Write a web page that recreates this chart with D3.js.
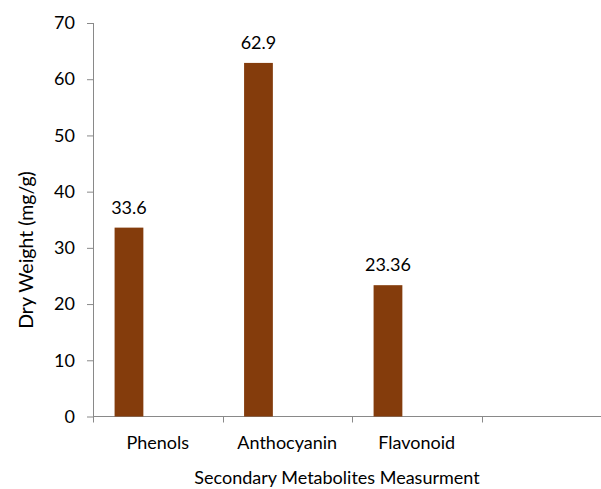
<!DOCTYPE html>
<html>
<head>
<meta charset="utf-8">
<script src="https://cdn.jsdelivr.net/npm/d3@7"></script>
<style>
  html, body { margin: 0; padding: 0; background: #fff; }
  svg { display: block; }
  text { font-family: Lato, "Open Sans", sans-serif; fill: #000; }
</style>
</head>
<body>
<svg id="chart" width="601" height="489"></svg>
<script>
// Data
const categories = ["Phenols", "Anthocyanin", "Flavonoid", ""];
const values = [33.6, 62.9, 23.36, null];
const valueLabels = ["33.6", "62.9", "23.36", ""];
const seriesSlots = ["Dry Weight", "slot2", "slot3"];
const yTicks = [0, 10, 20, 30, 40, 50, 60, 70];
const xTitle = "Secondary Metabolites Measurment";
const yTitle = "Dry Weight (mg/g)";

(function () {
const svg = d3.select("#chart");
const mLeft = 93, mRight = 611, mTop = 23, mBottom = 416.5;
const axisColor = "#898989";
const barColor = "#843C0C";
const fs = 18;

const x = d3.scaleBand().domain(categories).range([mLeft, mRight]).padding(0);
const x1 = d3.scaleBand().domain(seriesSlots).range([0, x.bandwidth()])
  .paddingInner(0).paddingOuter(0.75);
const y = d3.scaleLinear().domain([0, 70]).range([mBottom, mTop]);

// Y axis
const yAxis = d3.axisLeft(y).tickValues(yTicks).tickSize(6).tickPadding(12);
const gy = svg.append("g").attr("transform", `translate(${mLeft},0)`).call(yAxis);
gy.select(".domain").attr("stroke", axisColor).attr("d", `M0.5,${y(70)}V${y(0)}`);
gy.selectAll(".tick line").attr("stroke", axisColor);
gy.selectAll(".tick text").attr("font-size", fs).attr("font-family", "Lato, sans-serif").attr("fill", "#000");

// X axis
const gx = svg.append("g").attr("transform", `translate(0,${mBottom})`);
gx.append("line").attr("x1", mLeft).attr("x2", mRight).attr("y1", 0).attr("y2", 0)
  .attr("stroke", axisColor).attr("stroke-width", 1);
const tickPos = categories.map(d => x(d)).concat([mRight]);
gx.selectAll("line.tk").data(tickPos).enter().append("line")
  .attr("class", "tk")
  .attr("x1", d => Math.round(d) + 0.5)
  .attr("x2", d => Math.round(d) + 0.5)
  .attr("y1", 0).attr("y2", 6).attr("stroke", axisColor);
gx.selectAll("text.cat").data(categories).enter().append("text")
  .attr("class", "cat")
  .attr("x", d => x(d) + x.bandwidth() / 2)
  .attr("y", 32)
  .attr("text-anchor", "middle")
  .attr("font-size", fs)
  .text(d => d);

// Bars
const data = categories.map((c, i) => ({ c, v: values[i], label: valueLabels[i] })).filter(d => d.v != null);
svg.selectAll("rect.bar").data(data).enter().append("rect")
  .attr("class", "bar")
  .attr("x", d => x(d.c) + x1(seriesSlots[0]))
  .attr("width", x1.bandwidth())
  .attr("y", d => y(d.v))
  .attr("height", d => y(0) - y(d.v))
  .attr("fill", barColor);

svg.selectAll("text.val").data(data).enter().append("text")
  .attr("class", "val")
  .attr("x", d => x(d.c) + x1(seriesSlots[0]) + x1.bandwidth() / 2)
  .attr("y", d => y(d.v) - 14)
  .attr("text-anchor", "middle")
  .attr("font-size", fs)
  .text(d => d.label);

// Titles
svg.append("text")
  .attr("x", 337).attr("y", 484)
  .attr("text-anchor", "middle")
  .attr("font-size", fs)
  .text(xTitle);

svg.append("text")
  .attr("transform", `translate(33,250) rotate(-90)`)
  .attr("text-anchor", "middle")
  .attr("font-size", 19.5)
  .text(yTitle);
})();
</script>
</body>
</html>
